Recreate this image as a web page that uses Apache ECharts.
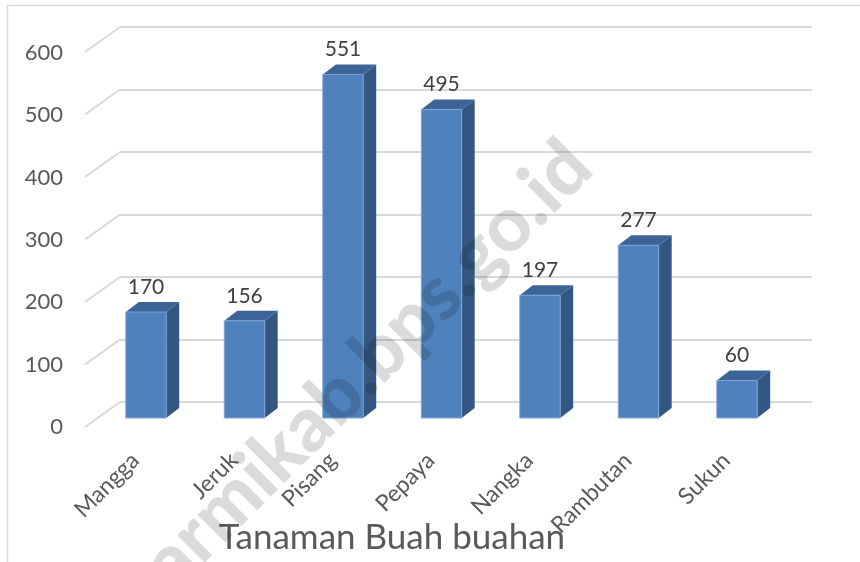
<!DOCTYPE html>
<html>
<head>
<meta charset="utf-8">
<script src="https://cdn.jsdelivr.net/npm/echarts@6/dist/echarts.min.js"></script>
<style>
  html, body { margin: 0; padding: 0; background: #fff; }
  #chart { width: 860px; height: 562px; }
</style>
</head>
<body>
<div id="chart"></div>
<script>
const categories = ['Mangga', 'Jeruk', 'Pisang', 'Pepaya', 'Nangka', 'Rambutan', 'Sukun']
const values = [170, 156, 551, 495, 197, 277, 60]
const yTicks = [0, 100, 200, 300, 400, 500, 600]

const FONT = 'Lato'
const GRID_COLOR = '#d9d9d9'
const FRONT = '#4f81bd'
const SIDE = '#345781'
const TOP = '#3c6499'

// 3d column: front face + right side + top, plus the value label
function renderBar(params, api) {
  const base = api.coord([api.value(0), 0])
  const top = api.coord([api.value(0), api.value(1)])
  const w = api.size([1, 0])[0] * 0.41
  const x0 = base[0] - w / 2
  const x1 = base[0] + w / 2
  const yb = base[1]
  const yt = top[1]
  const dx = 13
  const dy = 10
  return {
    type: 'group',
    children: [
      {
        type: 'polygon',
        shape: { points: [[x1, yt], [x1 + dx, yt - dy], [x1 + dx, yb - dy], [x1, yb]] },
        style: { fill: SIDE }
      },
      {
        type: 'polygon',
        shape: { points: [[x0, yt], [x0 + dx, yt - dy], [x1 + dx, yt - dy], [x1, yt]] },
        style: { fill: TOP }
      },
      {
        type: 'rect',
        shape: { x: x0, y: yt, width: w, height: yb - yt },
        style: { fill: FRONT, stroke: '#7ea4d4', lineWidth: 1 }
      },
      {
        type: 'text',
        style: {
          text: String(api.value(1)),
          x: base[0],
          y: yt - 25,
          align: 'center',
          verticalAlign: 'middle',
          fill: '#404040',
          fontSize: 21,
          fontFamily: FONT
        }
      }
    ]
  }
}

// slanted floor part of each gridline
function renderSlant(params, api) {
  const p = api.coord([0, api.value(1)])
  const x = params.coordSys.x
  return {
    type: 'line',
    shape: { x1: x, y1: p[1], x2: x - 35, y2: p[1] + 25 },
    style: { stroke: GRID_COLOR, lineWidth: 2 }
  }
}

const chart = echarts.init(document.getElementById('chart'))

chart.setOption({
  animation: false,
  backgroundColor: '#fff',
  title: {
    text: 'Tanaman Buah buahan',
    left: 387,
    top: 515,
    textAlign: 'center',
    textStyle: { fontSize: 35, fontWeight: 'normal', color: '#595959', fontFamily: FONT }
  },
  grid: [
    // back wall
    { left: 120, right: 48, top: 27, bottom: 160 },
    // front floor edge (value labels)
    { left: 85, right: 83, top: 53, bottom: 135 },
    // bars
    { left: 96.75, right: 73.75, top: 44, bottom: 144 }
  ],
  xAxis: [
    { type: 'category', data: categories, gridIndex: 0, show: false },
    { type: 'category', data: categories, gridIndex: 1, show: false },
    {
      type: 'category',
      data: categories,
      gridIndex: 2,
      axisLine: { show: false },
      axisTick: { show: false },
      axisLabel: {
        interval: 0,
        rotate: 45,
        margin: 28,
        padding: [0, 15, 0, 0],
        fontSize: 23,
        color: '#595959',
        fontFamily: FONT
      }
    }
  ],
  yAxis: [
    {
      type: 'value', gridIndex: 0, min: 0, max: 600, interval: 100,
      axisLine: { show: false }, axisTick: { show: false }, axisLabel: { show: false },
      splitLine: { lineStyle: { color: GRID_COLOR, width: 2 } }
    },
    {
      type: 'value', gridIndex: 1, min: 0, max: 600, interval: 100,
      axisLine: { show: false }, axisTick: { show: false }, splitLine: { show: false },
      axisLabel: { margin: 22, fontSize: 22, color: '#595959', fontFamily: FONT }
    },
    { type: 'value', gridIndex: 2, min: 0, max: 600, show: false }
  ],
  graphic: [
    {
      type: 'rect',
      shape: { x: 7.5, y: 5.5, width: 900, height: 700 },
      style: { fill: 'none', stroke: GRID_COLOR, lineWidth: 1.5 },
      z: -10
    },
    {
      type: 'text',
      x: 356,
      y: 377,
      rotation: Math.PI / 4,
      z: 100,
      style: {
        text: 'sarmikab.bps.go.id',
        align: 'center',
        verticalAlign: 'middle',
        fill: 'rgba(0,0,0,0.14)',
        font: '900 76px Lato'
      }
    }
  ],
  series: [
    {
      type: 'custom',
      xAxisIndex: 0,
      yAxisIndex: 0,
      renderItem: renderSlant,
      data: yTicks.map(v => [0, v]),
      silent: true
    },
    {
      type: 'custom',
      xAxisIndex: 2,
      yAxisIndex: 2,
      renderItem: renderBar,
      data: values.map((v, i) => [i, v])
    }
  ]
})
</script>
</body>
</html>
